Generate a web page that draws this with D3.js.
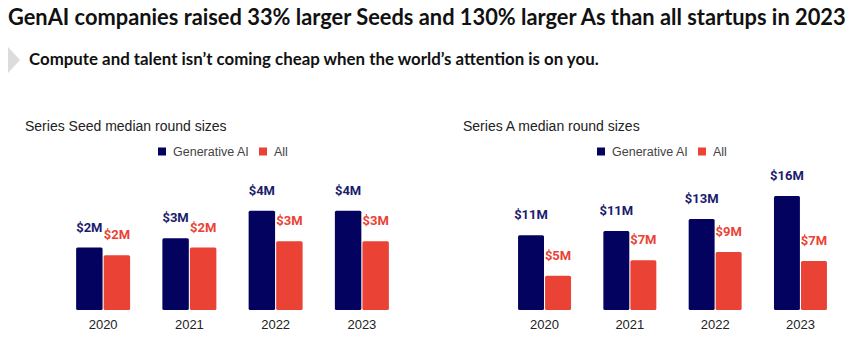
<!DOCTYPE html>
<html lang="en">
<head>
<meta charset="utf-8">
<title>GenAI round sizes</title>
<script src="https://d3js.org/d3.v7.min.js"></script>
<style>
  body { margin: 0; background: #fff; }
  svg { display: block; }
</style>
</head>
<body>
<script>
// data
const years = ["2020", "2021", "2022", "2023"];
const seriesNames = ["Generative AI", "All"];

const seedGenAI = [2.5, 2.87, 3.97, 3.97];
const seedAll = [2.19, 2.5, 2.75, 2.75];
const seedGenAILabels = ["$2M", "$3M", "$4M", "$4M"];
const seedAllLabels = ["$2M", "$2M", "$3M", "$3M"];

const aGenAI = [10.7, 11.3, 13.0, 16.3];
const aAll = [4.9, 7.1, 8.3, 7.0];
const aGenAILabels = ["$11M", "$11M", "$13M", "$16M"];
const aAllLabels = ["$5M", "$7M", "$9M", "$7M"];

const width = 862, height = 350;
const navy = "#03035f", navyText = "#1c1c6c", red = "#ea4335";
const baseline = 310;

const svg = d3.select("body").append("svg")
  .attr("width", width)
  .attr("height", height);

// heading
const title = svg.append("text")
  .attr("x", 8).attr("y", 25)
  .style("font-family", "Lato, sans-serif")
  .style("font-weight", 700)
  .style("font-size", "22px")
  .attr("fill", "#111")
  .text("GenAI companies raised 33% larger Seeds and 130% larger As than all startups in 2023");
fitWidth(title, 22, 838);

svg.append("polygon")
  .attr("points", "8,47 20,60 8,73")
  .attr("fill", "#dcdcdc");

const sub = svg.append("text")
  .attr("x", 29).attr("y", 65)
  .style("font-family", "Lato, sans-serif")
  .style("font-weight", 700)
  .style("font-size", "18px")
  .attr("fill", "#111")
  .text("Compute and talent isn\u2019t coming cheap when the world\u2019s attention is on you.");
fitWidth(sub, 18, 570);

function fitWidth(sel, size, target) {
  const w = sel.node().getComputedTextLength();
  sel.style("font-size", (size * target / w) + "px");
}

function panel(opts) {
  const rows = years.map((y, i) => ({
    year: y,
    vals: [
      {key: seriesNames[0], v: opts.gen[i], label: opts.genLabels[i]},
      {key: seriesNames[1], v: opts.all[i], label: opts.allLabels[i]}
    ]
  }));

  const x0 = d3.scaleBand().domain(years)
    .range(opts.range).paddingInner(opts.padIn).paddingOuter(0.5);
  const x1 = d3.scaleBand().domain(seriesNames)
    .range([0, x0.bandwidth()]).paddingInner(0.04);
  const y = d3.scaleLinear().domain([0, opts.max]).range([baseline, baseline - opts.maxPx]);
  const color = d3.scaleOrdinal().domain(seriesNames).range([navy, red]);
  const textColor = d3.scaleOrdinal().domain(seriesNames).range([navyText, red]);

  const g = svg.append("g");

  g.append("text")
    .attr("x", opts.titleX).attr("y", 131)
    .style("font-family", "Liberation Sans, Arial, sans-serif")
    .style("font-size", "14px")
    .attr("fill", "#222")
    .text(opts.title);

  // legend
  const leg = g.append("g").attr("transform", `translate(${opts.legendX},0)`);
  const legOff = [0, 101];
  seriesNames.forEach((s, i) => {
    leg.append("rect").attr("x", legOff[i]).attr("y", 147.5)
      .attr("width", 8).attr("height", 8).attr("fill", color(s));
    leg.append("text").attr("x", legOff[i] + 15).attr("y", 155.5)
      .style("font-family", "Liberation Sans, Arial, sans-serif")
      .style("font-size", "12.5px")
      .attr("fill", "#444")
      .text(s);
  });

  const grp = g.selectAll(".yr").data(rows).enter().append("g")
    .attr("transform", d => `translate(${x0(d.year)},0)`);

  grp.selectAll("rect").data(d => d.vals).enter().append("rect")
    .attr("x", d => x1(d.key))
    .attr("y", d => y(d.v))
    .attr("width", x1.bandwidth())
    .attr("height", d => baseline - y(d.v))
    .attr("rx", 1.5)
    .attr("fill", d => color(d.key));

  grp.selectAll(".lbl").data(d => d.vals).enter().append("text")
    .attr("class", "lbl")
    .attr("x", d => x1(d.key) + x1.bandwidth() / 2)
    .attr("y", d => y(d.v) - 16)
    .attr("text-anchor", "middle")
    .style("font-family", "Roboto, sans-serif")
    .style("font-weight", 700)
    .style("font-size", "13px")
    .attr("fill", d => textColor(d.key))
    .text(d => d.label);

  // year axis, no line
  const axis = g.append("g")
    .attr("transform", `translate(0,${baseline})`)
    .call(d3.axisBottom(x0).tickSize(0).tickPadding(0));
  axis.select(".domain").remove();
  axis.selectAll("text")
    .attr("y", 19).attr("dy", null)
    .style("font-family", "Liberation Sans, Arial, sans-serif")
    .style("font-size", "13px")
    .attr("fill", "#222");
}

panel({
  title: "Series Seed median round sizes", titleX: 25, legendX: 158,
  gen: seedGenAI, all: seedAll, genLabels: seedGenAILabels, allLabels: seedAllLabels,
  range: [33, 432], padIn: 0.374, max: 4, maxPx: 100
});

panel({
  title: "Series A median round sizes", titleX: 463, legendX: 597,
  gen: aGenAI, all: aAll, genLabels: aGenAILabels, allLabels: aAllLabels,
  range: [475.4, 869.6], padIn: 0.379, max: 16.3, maxPx: 114
});
</script>
</body>
</html>
